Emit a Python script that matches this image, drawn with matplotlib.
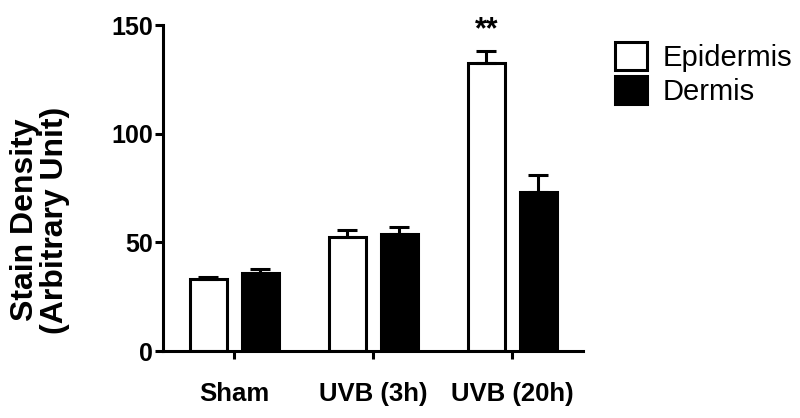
import matplotlib
matplotlib.use('Agg')
import matplotlib.pyplot as plt
import numpy as np

plt.rcParams['font.family'] = ['Liberation Sans', 'DejaVu Sans']

groups = ['Sham', 'UVB (3h)', 'UVB (20h)']
epidermis = [33, 52.5, 132.5]
epidermis_err = [1, 3, 5.5]
dermis = [36, 54, 73]
dermis_err = [2, 3, 8]

x = np.arange(len(groups))
width = 0.265
offset = 0.187
lw = 2.2

fig = plt.figure(figsize=(8, 4.18), dpi=100)
ax = fig.add_axes([0.204, 0.160, 0.525, 0.780])

err_kw = dict(elinewidth=lw, capsize=7.5, capthick=lw, ecolor='black')
ax.bar(x - offset, epidermis, width, color='white', edgecolor='black', linewidth=lw,
       yerr=[np.zeros(3), epidermis_err], error_kw=err_kw, label='Epidermis')
ax.bar(x + offset, dermis, width, color='black', edgecolor='black', linewidth=lw,
       yerr=[np.zeros(3), dermis_err], error_kw=err_kw, label='Dermis')

# significance mark above UVB (20h) epidermis
ax.text(x[2] - offset, 144, '**', ha='center', va='baseline', fontsize=22,
        fontweight='bold', clip_on=False)

ax.set_xlim(-0.51, 2.51)
ax.set_ylim(0, 150)
ax.set_yticks([0, 50, 100, 150])
ax.set_xticks(x)
ax.set_xticklabels(groups)

for s in ['top', 'right']:
    ax.spines[s].set_visible(False)
for s in ['left', 'bottom']:
    ax.spines[s].set_linewidth(lw)

ax.tick_params(axis='y', direction='out', length=6, width=lw, pad=1.5, labelsize=18)
ax.tick_params(axis='x', direction='out', length=6, width=lw, pad=16, labelsize=18.5)
for lab in ax.get_xticklabels() + ax.get_yticklabels():
    lab.set_fontweight('bold')

fig.text(0.05, 1 - 220 / 418, 'Stain Density\n(Arbitrary Unit)', rotation=90,
         ha='center', va='center', multialignment='center', fontsize=23,
         fontweight='bold', linespacing=1.0)

leg = ax.legend(loc='upper left', bbox_to_anchor=(603 / 800, 1 - 30 / 418),
                bbox_transform=fig.transFigure, frameon=False, fontsize=21,
                handlelength=1.1, handleheight=1.1, handletextpad=0.55,
                labelspacing=0.15, borderaxespad=0)
for h in leg.legend_handles:
    h.set_linewidth(lw)

fig.savefig('out.png', dpi=100)
